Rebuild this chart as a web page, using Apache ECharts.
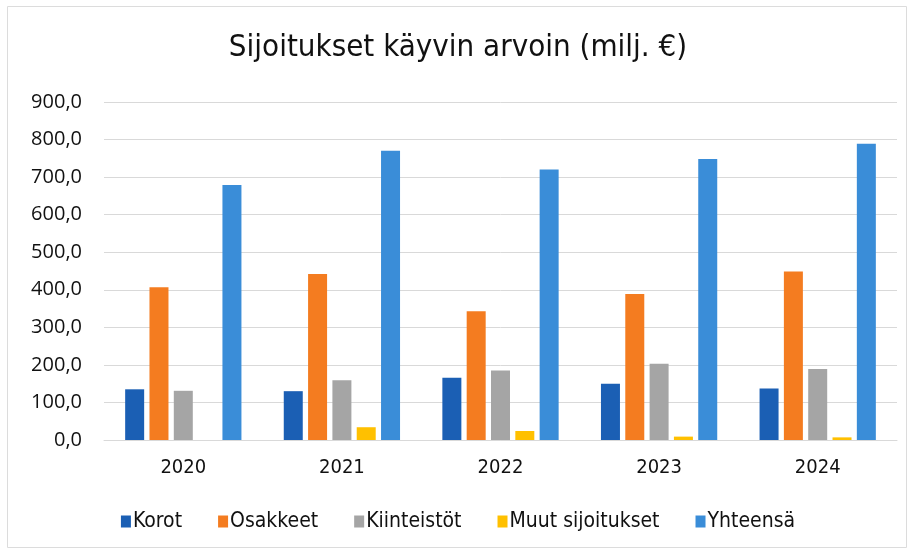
<!DOCTYPE html>
<html>
<head>
<meta charset="utf-8">
<title>Sijoitukset käyvin arvoin</title>
<script src="https://cdn.jsdelivr.net/npm/echarts@6/dist/echarts.min.js"></script>
<style>
  html, body { margin: 0; padding: 0; background: #fff; }
  #chart { width: 916px; height: 556px; }
</style>
</head>
<body>
<div id="chart"></div>
<script>
// vuodet ja sarjat luettu kuvasta (milj. €)
const years = ['2020', '2021', '2022', '2023', '2024']
const korot = [135, 130, 166, 150, 137]
const osakkeet = [407, 442, 343, 389, 449]
const kiinteistot = [131, 159, 185, 203, 189]
const muut = [0, 34, 24, 9, 7]
const yhteensa = [679, 770, 720, 748, 789]
const yTicks = [0, 100, 200, 300, 400, 500, 600, 700, 800, 900]

const narrow = '"DejaVu Sans Condensed", "Liberation Sans Narrow", sans-serif'

const chart = echarts.init(document.getElementById('chart'))

function bar(name, data, color) {
  return {
    name: name,
    type: 'bar',
    data: data,
    barWidth: 19,
    barGap: '28%',
    itemStyle: { color: color },
  }
}

const option = {
  animation: false,
  backgroundColor: '#fff',
  graphic: [
    {
      type: 'rect',
      shape: { x: 7.5, y: 6.5, width: 899, height: 541 },
      style: { fill: 'none', stroke: '#dcdcdc', lineWidth: 1 },
      silent: true,
    },
  ],
  title: {
    text: 'Sijoitukset käyvin arvoin (milj. €)',
    left: 'center',
    top: 27,
    textStyle: {
      fontFamily: narrow,
      fontSize: 31,
      fontWeight: 'normal',
      color: '#111',
    },
  },
  grid: {
    left: 104,
    right: 19,
    top: 102,
    bottom: 116,
    containLabel: false,
  },
  xAxis: {
    type: 'category',
    data: years,
    axisTick: { show: false },
    axisLine: { lineStyle: { color: '#d9d9d9' } },
    axisLabel: {
      margin: 18,
      fontFamily: narrow,
      fontSize: 20,
      color: '#111',
    },
  },
  yAxis: {
    type: 'value',
    min: yTicks[0],
    max: yTicks[yTicks.length - 1],
    interval: 100,
    axisLine: { show: false },
    axisTick: { show: false },
    splitLine: { lineStyle: { color: '#d9d9d9' } },
    axisLabel: {
      margin: 22,
      fontFamily: '"Open Sans", "Noto Sans", sans-serif',
      fontSize: 20,
      color: '#111',
      formatter: (v) => v.toFixed(1).replace('.', ','),
    },
  },
  legend: {
    bottom: 19,
    left: 'center',
    itemWidth: 10,
    itemHeight: 12,
    itemGap: 36,
    icon: 'rect',
    textStyle: {
      fontFamily: narrow,
      fontSize: 21,
      color: '#111',
      padding: [0, 0, 0, -3],
    },
  },
  series: [
    bar('Korot', korot, '#1b5fb4'),
    bar('Osakkeet', osakkeet, '#f47c20'),
    bar('Kiinteistöt', kiinteistot, '#a5a5a5'),
    bar('Muut sijoitukset', muut, '#ffc000'),
    bar('Yhteensä', yhteensa, '#3a8dd8'),
  ],
}

chart.setOption(option)
</script>
</body>
</html>
